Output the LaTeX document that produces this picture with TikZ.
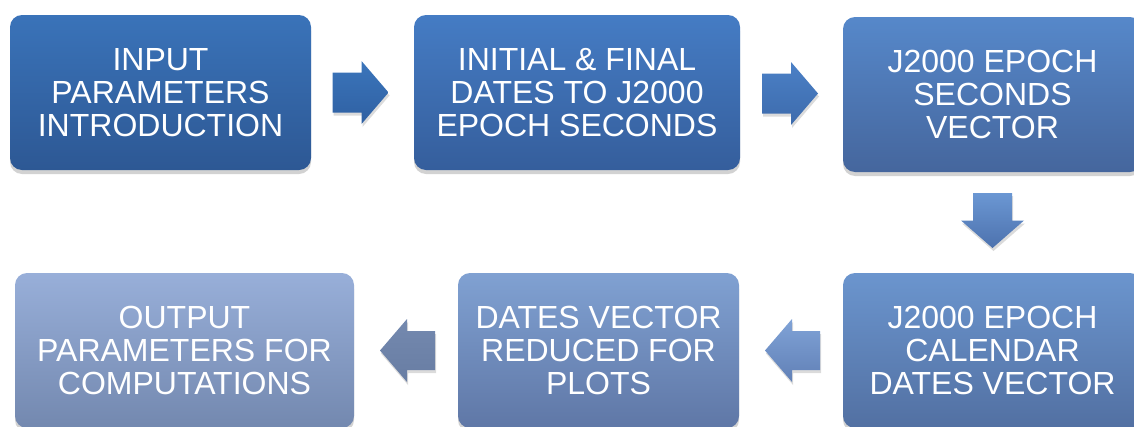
\documentclass[tikz,border=0pt]{standalone}
\usepackage{fontspec}
\setmainfont{Liberation Sans}
\usetikzlibrary{shadows,calc}
\definecolor{bAt}{HTML}{3A73B9}\definecolor{bAb}{HTML}{2D5894}
\definecolor{bBt}{HTML}{457CC4}\definecolor{bBb}{HTML}{355E9C}
\definecolor{bCt}{HTML}{5688CA}\definecolor{bCb}{HTML}{45669D}
\definecolor{bDt}{HTML}{6B95CE}\definecolor{bDb}{HTML}{5270A2}
\definecolor{bEt}{HTML}{80A1D2}\definecolor{bEb}{HTML}{5F77A6}
\definecolor{bFt}{HTML}{98AFD9}\definecolor{bFb}{HTML}{7388AF}
\definecolor{aAt}{HTML}{3B75BB}\definecolor{aAb}{HTML}{2F60A2}
\definecolor{aBt}{HTML}{4B80C6}\definecolor{aBb}{HTML}{3D6BAC}
\definecolor{aCt}{HTML}{6B97D3}\definecolor{aCb}{HTML}{4D72AE}
\definecolor{aDt}{HTML}{80A3D7}\definecolor{aDb}{HTML}{6180B6}
\definecolor{aEt}{HTML}{7489AF}\definecolor{aEb}{HTML}{687DA3}
\begin{document}
\begin{tikzpicture}[x=1pt,y=-1pt,
  box/.style={rectangle, rounded corners=12pt, minimum height=155pt, inner sep=0pt,
    align=center, text=white, font=\fontsize{32}{33}\selectfont,
    drop shadow={shadow xshift=0pt,shadow yshift=-4pt,opacity=0.25,fill=black!70}},
  blk/.style={drop shadow={shadow xshift=1pt,shadow yshift=-3pt,opacity=0.2,fill=black!70}},
  rarrow/.pic={\path[blk,#1] (-28,-20) -- (1,-20) -- (1,-31.5) -- (28,0) -- (1,31.5) -- (1,20) -- (-28,20) -- cycle;},
  larrow/.pic={\path[blk,#1] (27.5,-19.5) -- (-0.5,-19.5) -- (-0.5,-31.5) -- (-27.5,0) -- (-0.5,31.5) -- (-0.5,19.5) -- (27.5,19.5) -- cycle;},
  darrow/.pic={\path[blk,#1] (-19.5,-27.5) -- (19.5,-27.5) -- (19.5,0) -- (31.5,0) -- (0,27.5) -- (-31.5,0) -- (-19.5,0) -- cycle;}
]
\useasboundingbox (0,0) rectangle (1134,426);
\clip (0,0) rectangle (1134,426);
\node[box, minimum width=301pt, top color=bAt, bottom color=bAb] (b1) at (160.5,92.5) {INPUT\\PARAMETERS\\INTRODUCTION};
\node[box, minimum width=326pt, top color=bBt, bottom color=bBb] (b2) at (577,92.5) {INITIAL \& FINAL\\DATES TO J2000\\EPOCH SECONDS};
\node[box, minimum width=299pt, top color=bCt, bottom color=bCb] (b3) at (992.5,94.5) {J2000 EPOCH\\SECONDS\\VECTOR};
\node[box, minimum width=299pt, top color=bDt, bottom color=bDb] (b4) at (992.5,350.5) {J2000 EPOCH\\CALENDAR\\DATES VECTOR};
\node[box, minimum width=281pt, top color=bEt, bottom color=bEb] (b5) at (598.5,350.5) {DATES VECTOR\\REDUCED FOR\\PLOTS};
\node[box, minimum width=339pt, top color=bFt, bottom color=bFb] (b6) at (184.5,350.5) {OUTPUT\\PARAMETERS FOR\\COMPUTATIONS};
\pic at ($(b1.east)!0.5!(b2.west)+(-2,0)$) {rarrow={top color=aAt,bottom color=aAb}};
\pic at ($(b2.east)!0.5!(b3.west)+(-1.5,0)$) {rarrow={top color=aBt,bottom color=aBb}};
\pic at ($(b3.south)!0.5!(b4.north)+(0,-2)$) {darrow={top color=aCt,bottom color=aCb}};
\pic at ($(b4.west)!0.5!(b5.east)+(1.5,0)$) {larrow={top color=aDt,bottom color=aDb}};
\pic at ($(b5.west)!0.5!(b6.east)+(1.5,0)$) {larrow={top color=aEt,bottom color=aEb}};
\end{tikzpicture}
\end{document}
